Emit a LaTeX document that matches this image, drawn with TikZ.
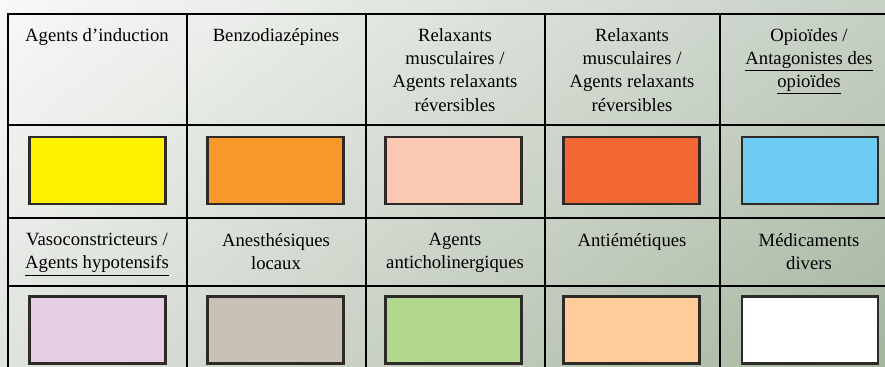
\documentclass[tikz,border=0pt]{standalone}
\usepackage{fontspec}
\setmainfont{Liberation Serif}
\usepackage{xcolor}
\usetikzlibrary{shadings}

\definecolor{bgTL}{HTML}{F9F9F8}
\definecolor{bgTR}{HTML}{C6D0C5}
\definecolor{bgBL}{HTML}{DFE3DE}
\definecolor{bgBR}{HTML}{A5B59E}
\definecolor{swatchedge}{HTML}{2E2A28}
\definecolor{cInduction}{HTML}{FFF200}
\definecolor{cBenzo}{HTML}{F7982A}
\definecolor{cRelaxA}{HTML}{FAC8B3}
\definecolor{cRelaxB}{HTML}{F26734}
\definecolor{cOpioid}{HTML}{6ECBF2}
\definecolor{cVaso}{HTML}{E5CDE3}
\definecolor{cLocal}{HTML}{C9C0B6}
\definecolor{cAnticho}{HTML}{B2D78E}
\definecolor{cEmetic}{HTML}{FECC99}
\definecolor{cDivers}{HTML}{FFFFFF}

\begin{document}
\begin{tikzpicture}[x=0.75pt,y=-0.75pt,
    grid/.style={line width=2.2pt, black},
    swatch/.style={draw=swatchedge, line width=1.9pt, minimum width=102pt,
      minimum height=50pt, inner sep=0pt},
    lbl/.style={anchor=north, align=center, inner sep=0pt,
      font=\fontsize{14}{17.5}\selectfont}]
  \useasboundingbox (0,0) rectangle (885,367);
  \clip (0,0) rectangle (885,367);
  % background
  \shade[upper left=bgTL, upper right=bgTR, lower left=bgBL, lower right=bgBR]
    (0,0) rectangle (885,367);
  % table grid
  \draw[grid] (8,14) rectangle (900,380);
  \draw[grid] (8,125) -- (900,125);
  \draw[grid] (8,218) -- (900,218);
  \draw[grid] (8,286) -- (900,286);
  \draw[grid] (187,14) -- (187,380);
  \draw[grid] (366,14) -- (366,380);
  \draw[grid] (545,14) -- (545,380);
  \draw[grid] (720,14) -- (720,380);
  % first row of labels
  \node[lbl] (lblInduction) at (97,28) {Agents d'induction};
  \node[lbl] (lblBenzo) at (276,28) {Benzodiazépines};
  \node[lbl] (lblRelaxA) at (455,28) {Relaxants\\musculaires /\\Agents relaxants\\réversibles};
  \node[lbl] (lblRelaxB) at (632,28) {Relaxants\\musculaires /\\Agents relaxants\\réversibles};
  \node[lbl] (lblOpioid) at (809,28) {Opioïdes /\\\underline{Antagonistes des}\\\underline{opioïdes}};
  % first row of colours
  \node[swatch, fill=cInduction] (swInduction) at (97.5,170.5) {};
  \node[swatch, fill=cBenzo] (swBenzo) at (275.5,170.5) {};
  \node[swatch, fill=cRelaxA] (swRelaxA) at (453.5,170.5) {};
  \node[swatch, fill=cRelaxB] (swRelaxB) at (631.5,170.5) {};
  \node[swatch, fill=cOpioid] (swOpioid) at (810,170.5) {};
  % second row of labels
  \node[lbl] (lblVaso) at (97,233) {Vasoconstricteurs /\\\underline{Agents hypotensifs}};
  \node[lbl] (lblLocal) at (276,233) {Anesthésiques\\locaux};
  \node[lbl] (lblAnticho) at (455,233) {Agents\\anticholinergiques};
  \node[lbl] (lblEmetic) at (632,233) {Antiémétiques};
  \node[lbl] (lblDivers) at (809,233) {Médicaments\\divers};
  % second row of colours
  \node[swatch, fill=cVaso] (swVaso) at (97.5,330) {};
  \node[swatch, fill=cLocal] (swLocal) at (275.5,330) {};
  \node[swatch, fill=cAnticho] (swAnticho) at (453.5,330) {};
  \node[swatch, fill=cEmetic] (swEmetic) at (631.5,330) {};
  \node[swatch, fill=cDivers] (swDivers) at (810,330) {};
\end{tikzpicture}
\end{document}
